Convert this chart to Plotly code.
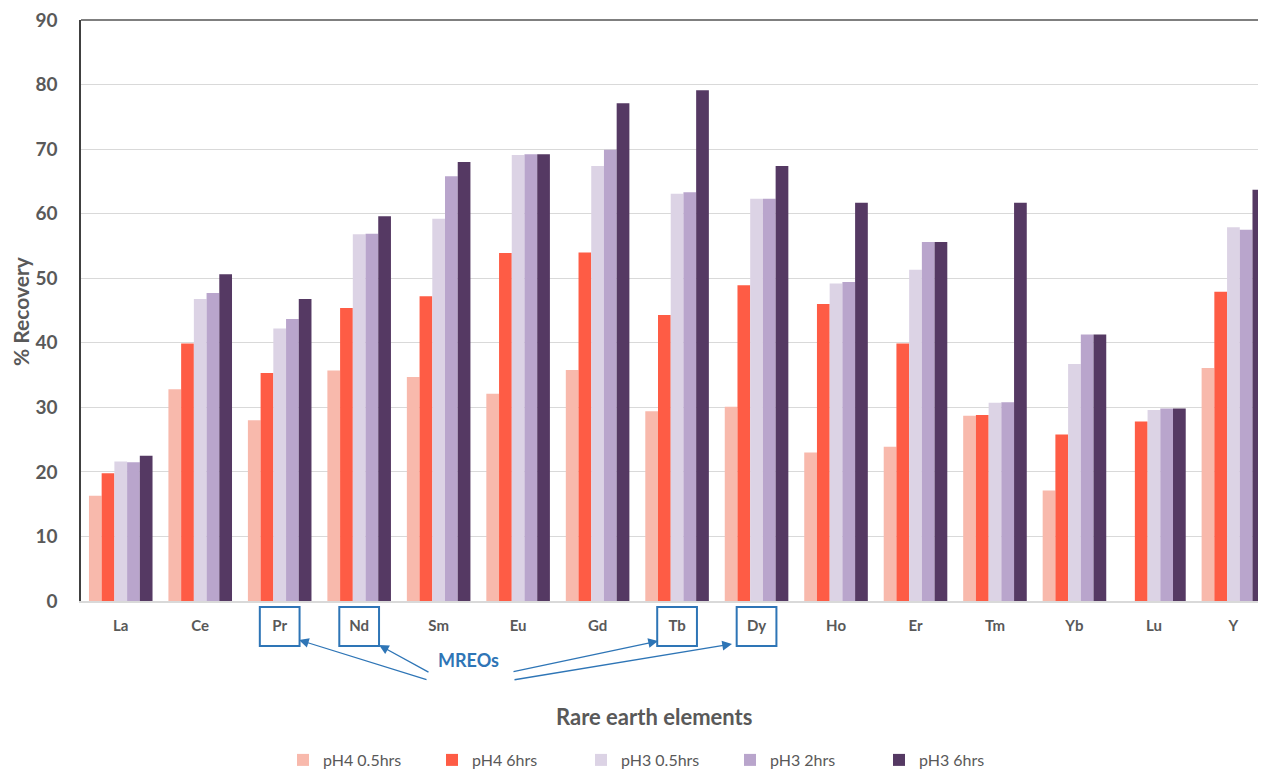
import plotly.graph_objects as go

elements = ["La", "Ce", "Pr", "Nd", "Sm", "Eu", "Gd", "Tb", "Dy", "Ho", "Er", "Tm", "Yb", "Lu", "Y"]
ph4_05 = [16.3, 32.8, 28.0, 35.7, 34.7, 32.1, 35.8, 29.4, 30.1, 23.0, 23.9, 28.7, 17.1, 0, 36.1]
ph4_6 = [19.8, 39.9, 35.3, 45.4, 47.2, 53.9, 54.0, 44.3, 48.9, 46.0, 39.9, 28.8, 25.8, 27.8, 47.9]
ph3_05 = [21.6, 46.8, 42.2, 56.8, 59.2, 69.1, 67.4, 63.1, 62.3, 49.2, 51.3, 30.7, 36.7, 29.6, 57.9]
ph3_2 = [21.5, 47.7, 43.7, 56.9, 65.8, 69.2, 69.9, 63.3, 62.3, 49.4, 55.6, 30.8, 41.3, 29.8, 57.5]
ph3_6 = [22.5, 50.6, 46.8, 59.6, 68.0, 69.2, 77.1, 79.1, 67.4, 61.7, 55.6, 61.7, 41.3, 29.8, 63.7]
series_names = ["pH4 0.5hrs", "pH4 6hrs", "pH3 0.5hrs", "pH3 2hrs", "pH3 6hrs"]
series_colors = ["#F8B9AC", "#FE5C45", "#DCD3E5", "#B9A5CC", "#553963"]
mreo_elements = ["Pr", "Nd", "Tb", "Dy"]

# page offset caused by the default body margin of the html page
OFF = 8
W, H = 1266 - OFF, 771 - OFF
ML, MR, MT, MB = 81 - OFF, 0, 20 - OFF, 170
PW, PH = W - ML - MR, H - MT - MB

def pxx(xp):
    return (xp - (ML + OFF)) / PW

def pxy(yp):
    return (MT + OFF + PH - yp) / PH

font_family = "Lato"
gray = "#595959"
blue = "#2E75B6"

fig = go.Figure()
for name, vals, col in zip(series_names, [ph4_05, ph4_6, ph3_05, ph3_2, ph3_6], series_colors):
    fig.add_trace(go.Bar(x=elements, y=vals, name=name, marker=dict(color=col, line=dict(width=0))))

shapes = [dict(type="line", xref="paper", yref="paper", x0=0, x1=1, y0=1, y1=1,
               line=dict(color="#7F7F7F", width=2))]
for el in mreo_elements:
    i = elements.index(el)
    shapes.append(dict(type="rect", xref="x", yref="paper", x0=i - 0.25, x1=i + 0.25,
                       y0=pxy(646), y1=pxy(607), line=dict(color=blue, width=2),
                       fillcolor="rgba(0,0,0,0)"))

annotations = [
    dict(text="MREOs", xref="paper", yref="paper", x=pxx(468), y=pxy(660), showarrow=False,
         font=dict(family=font_family, size=18, color=blue, weight="bold"),
         xanchor="center", yanchor="middle"),
    dict(text="Rare earth elements", xref="paper", yref="paper", x=pxx(654), y=pxy(716),
         showarrow=False, font=dict(family=font_family, size=22, color=gray, weight="bold"),
         xanchor="center", yanchor="middle"),
    dict(text="% Recovery", xref="paper", yref="paper", x=pxx(20), y=pxy(311),
         showarrow=False, textangle=-90,
         font=dict(family=font_family, size=21, color=gray, weight="bold"),
         xanchor="center", yanchor="middle"),
]
arrows = [((299, 640), (428, 680)), ((379, 645), (430, 673)),
          ((658, 641), (512, 672)), ((732, 644), (513, 680))]
for (hx, hy), (tx, ty) in arrows:
    annotations.append(dict(text="", xref="paper", yref="paper", x=pxx(hx), y=pxy(hy),
                            ax=tx - hx, ay=ty - hy, showarrow=True, arrowhead=2,
                            arrowsize=1.5, arrowwidth=1.3, arrowcolor=blue))

fig.update_layout(
    width=W, height=H,
    margin=dict(l=ML, r=MR, t=MT, b=MB, pad=0),
    paper_bgcolor="white", plot_bgcolor="white",
    barmode="group", bargap=0.2, bargroupgap=0,
    font=dict(family=font_family, color=gray),
    shapes=shapes, annotations=annotations,
    legend=dict(orientation="h", xref="container", yref="container",
                x=(283 - OFF) / W, y=(771 - 760) / H, xanchor="left", yanchor="middle",
                entrywidth=104, font=dict(family=font_family, size=16, color=gray),
                itemclick=False),
    xaxis=dict(range=[-0.5, 14.41], showgrid=False, showline=True, linecolor="#D9D9D9",
               linewidth=1.5, ticks="", ticklabelstandoff=10,
               tickfont=dict(family=font_family, size=15, color=gray, weight="bold")),
    yaxis=dict(range=[0, 90], dtick=10, showgrid=True, gridcolor="#D9D9D9", gridwidth=1,
               showline=True, linecolor="#404040", linewidth=1.5, zeroline=False,
               ticks="", ticklabelstandoff=18, ticklabeloverflow="allow",
               tickfont=dict(family=font_family, size=19, color=gray, weight="bold")),
)

fig.write_html("out.html")
